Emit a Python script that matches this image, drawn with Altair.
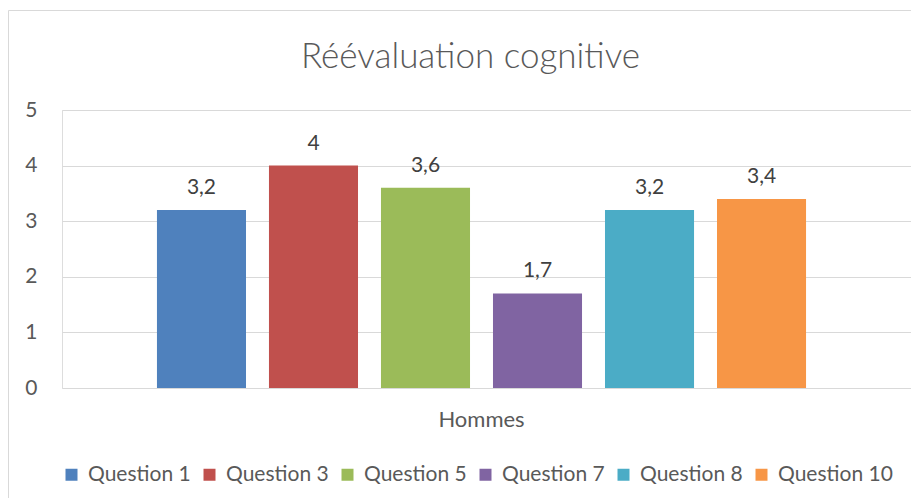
import altair as alt
import pandas as pd

groupe = "Hommes"
questions = ["Question 1", "Question 3", "Question 5", "Question 7", "Question 8", "Question 10"]
valeurs = [3.2, 4, 3.6, 1.7, 3.2, 3.4]
couleurs = ["#4f81bd", "#c0504d", "#9bbb59", "#8064a2", "#4bacc6", "#f79646"]
y_ticks = [0, 1, 2, 3, 4, 5]


def fmt(v):
    return (f"{v:g}").replace(".", ",")


df = pd.DataFrame({
    "groupe": [groupe] * len(questions),
    "question": questions,
    "valeur": valeurs,
    "etiquette": [fmt(v) for v in valeurs],
})

FONT = "Lato"
GREY = "#595959"

x_enc = alt.X("groupe:N", title=None,
              scale=alt.Scale(paddingOuter=0.154, paddingInner=0, align=0.475),
              axis=alt.Axis(labelAngle=0, domain=False, ticks=False, labelPadding=21,
                            labelFont=FONT, labelFontSize=22, labelColor=GREY))
xo_enc = alt.XOffset("question:N", sort=questions,
                     scale=alt.Scale(paddingInner=0.205, paddingOuter=0))
y_enc = alt.Y("valeur:Q", title=None,
              scale=alt.Scale(domain=[0, 5], nice=False),
              axis=alt.Axis(values=y_ticks, domain=False, ticks=False, labelPadding=25,
                            grid=True, gridColor="#d9d9d9", gridWidth=1,
                            labelFont=FONT, labelFontSize=21, labelColor=GREY))

base = alt.Chart(df)

bars = base.mark_bar().encode(
    x=x_enc, xOffset=xo_enc, y=y_enc,
    color=alt.Color("question:N", sort=questions,
                    scale=alt.Scale(domain=questions, range=couleurs),
                    legend=alt.Legend(title=None, orient="none", direction="horizontal",
                                      legendX=-1, legendY=354, padding=0,
                                      symbolType="square", symbolSize=144,
                                      symbolStrokeWidth=0,
                                      labelFont=FONT, labelFontSize=21, labelColor=GREY,
                                      labelOffset=6, columnPadding=8)),
)

texts = base.mark_text(baseline="alphabetic", dy=-16, font=FONT, fontSize=21,
                       color="#404040").encode(
    x=x_enc, xOffset=xo_enc, y=y_enc, text="etiquette:N",
)

frame = alt.Chart(pd.DataFrame({"a": [0]})).mark_rect(
    fill=None, stroke="#d9d9d9", strokeWidth=1
).encode(x=alt.value(-53.5), x2=alt.value(900), y=alt.value(-99.5), y2=alt.value(500))

chart = alt.layer(frame, bars, texts).properties(
    width=849, height=278,
    title=alt.TitleParams("Réévaluation cognitive", font=FONT, fontSize=35,
                          fontWeight=300, color=GREY, anchor="middle", dx=-16,
                          frame="group", offset=0, dy=65),
    padding={"left": 54, "top": 102, "right": 0, "bottom": 110},
    autosize=alt.AutoSizeParams(type="none"),
).configure_view(stroke=None).configure(background="white")

chart.save("out.html", embed_options={"renderer": "svg", "actions": False})
